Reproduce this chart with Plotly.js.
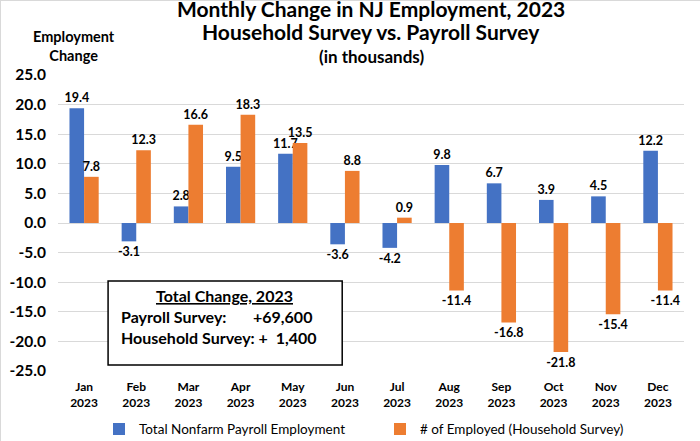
<!DOCTYPE html>
<html><head><meta charset="utf-8">
<script src="https://cdn.plot.ly/plotly-3.0.1.min.js"></script>
<style>body{margin:0;padding:0;background:#fff}#chart{width:700px;height:441px;box-sizing:border-box;border:1px solid #d9d9d9}</style>
</head><body><div id="chart"></div>
<script>
const months = ["Jan<br>2023","Feb<br>2023","Mar<br>2023","Apr<br>2023","May<br>2023","Jun<br>2023","Jul<br>2023","Aug<br>2023","Sep<br>2023","Oct<br>2023","Nov<br>2023","Dec<br>2023"];
const payroll = [19.4,-3.1,2.8,9.5,11.7,-3.6,-4.2,9.8,6.7,3.9,4.5,12.2];
const household = [7.8,12.3,16.6,18.3,13.5,8.8,0.9,-11.4,-16.8,-21.8,-15.4,-11.4];
const yTicks = [-25,-20,-15,-10,-5,0,5,10,15,20,25];
const F = "Lato, 'Open Sans', sans-serif";
const lblFont = {family:F, size:12.5, color:"#000", weight:"bold"};
const traces = [
 {type:"bar", name:"Total Nonfarm Payroll Employment", x:months, y:payroll,
  marker:{color:"#4472C4"}, text:payroll.map(v=>v.toFixed(1)), textposition:"outside", constraintext:"none",
  textfont:lblFont, cliponaxis:false, hoverinfo:"none"},
 {type:"bar", name:"# of Employed (Household Survey)", x:months, y:household,
  marker:{color:"#ED7D31"}, text:household.map(v=>v.toFixed(1)), textposition:"outside", constraintext:"none",
  textfont:lblFont, cliponaxis:false, hoverinfo:"none"}
];
const layout = {
 width:700, height:441,
 margin:{l:57,r:17,t:74,b:71, autoexpand:false},
 font:{family:F, size:12, color:"#000"},
 paper_bgcolor:"#fff", plot_bgcolor:"#fff",
 barmode:"group", bargap:0.44, bargroupgap:0,
 showlegend:true,
 legend:{orientation:"h", xref:"container", yref:"container", x:0.14, xanchor:"left", y:0.029, yanchor:"middle",
  font:{family:F,size:13.5}, entrywidth:236, entrywidthmode:"pixels"},
 xaxis:{type:"category", showgrid:false, ticks:"", ticklabelstandoff:7, tickfont:{family:F,size:12,weight:"bold"}, showline:false, automargin:false},
 yaxis:{range:[-25,25], tickvals:yTicks, ticktext:yTicks.map(v=>v.toFixed(1)), showgrid:true, gridcolor:"#d9d9d9", gridwidth:1, automargin:false,
  zeroline:true, zerolinecolor:"#d9d9d9", zerolinewidth:1, ticks:"", ticklabelstandoff:11, tickfont:{family:F,size:15.5,weight:"bold"}},
 annotations:[
  {xref:"paper", yref:"paper", x:0.5, y:1, yshift:67, xanchor:"center", yanchor:"middle", showarrow:false,
   text:"Monthly Change in NJ Employment, 2023", font:{family:F,size:21,weight:"bold"}},
  {xref:"paper", yref:"paper", x:0.5, y:1, yshift:44, xanchor:"center", yanchor:"middle", showarrow:false,
   text:"Household Survey vs. Payroll Survey", font:{family:F,size:21,weight:"bold"}},
  {xref:"paper", yref:"paper", x:0.5, y:1, yshift:19, xanchor:"center", yanchor:"middle", showarrow:false,
   text:"(in thousands)", font:{family:F,size:17,weight:"bold"}},
  {xref:"paper", yref:"paper", x:0, xshift:16, y:1, yshift:29, xanchor:"center", yanchor:"middle", showarrow:false,
   text:"Employment<br>Change", font:{family:F,size:14.5,weight:"bold"}},
  {xref:"paper", yref:"paper", x:0.2667, y:0.255, xanchor:"center", yanchor:"middle", showarrow:false,
   text:"<u>Total Change, 2023</u>", font:{family:F,size:16,weight:"bold"}},
  {xref:"paper", yref:"paper", x:0.097, y:0.184, xanchor:"left", yanchor:"middle", showarrow:false,
   text:"Payroll Survey:", font:{family:F,size:16,weight:"bold"}},
  {xref:"paper", yref:"paper", x:0.409, y:0.184, xanchor:"right", yanchor:"middle", showarrow:false,
   text:"+69,600", font:{family:F,size:16,weight:"bold"}},
  {xref:"paper", yref:"paper", x:0.097, y:0.113, xanchor:"left", yanchor:"middle", showarrow:false,
   text:"Household Survey: +  1,400", font:{family:F,size:16,weight:"bold"}}
 ],
 shapes:[
  {type:"rect", xref:"paper", yref:"paper", x0:0.080, x1:0.454, y0:0.02, y1:0.304, line:{color:"#000",width:1.5}, fillcolor:"#fff", layer:"above"}
 ]
};
Plotly.newPlot("chart", traces, layout, {displayModeBar:false, staticPlot:true});
</script></body></html>
